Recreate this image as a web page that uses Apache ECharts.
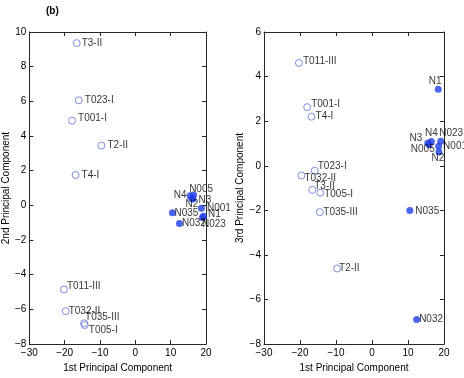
<!DOCTYPE html>
<html>
<head>
<meta charset="utf-8">
<script src="https://cdn.jsdelivr.net/npm/echarts@6/dist/echarts.min.js"></script>
<style>html,body{margin:0;padding:0;background:#fff;}#c{width:464px;height:378px;}</style>
</head>
<body>
<div id="c"></div>
<script>
// ---- Data ----
var xTicks = [-30, -20, -10, 0, 10, 20];
var leftYTicks = [-8, -6, -4, -2, 0, 2, 4, 6, 8, 10];
var rightYTicks = [-8, -6, -4, -2, 0, 2, 4, 6];

var leftTumorNames = ['T3-II','T023-I','T001-I','T2-II','T4-I','T011-III','T032-II','T035-III','T005-I'];
var leftTumorPC1   = [-16.6, -16.0, -17.9, -9.6, -16.9, -20.2, -19.7, -14.5, -14.3];
var leftTumorPC2   = [9.36, 6.06, 4.89, 3.45, 1.75, -4.85, -6.1, -6.8, -6.9];

var leftNormalNames = ['N005','N4','N3','N2','N001','N1','N023','N035','N032'];
var leftNormalPC1   = [16.5, 15.5, 16.3, 16.0, 18.7, 19.3, 19.0, 10.5, 12.5];
var leftNormalPC2   = [0.6, 0.56, 0.37, 0.4, -0.17, -0.62, -0.7, -0.43, -1.04];

var rightTumorNames = ['T011-III','T001-I','T4-I','T023-I','T032-II','T3-II','T005-I','T035-III','T2-II'];
var rightTumorPC1   = [-20.3, -18.0, -16.8, -15.9, -19.6, -16.6, -14.4, -14.5, -9.7];
var rightTumorPC3   = [4.61, 2.63, 2.2, -0.22, -0.44, -1.08, -1.21, -2.08, -4.61];

var rightNormalNames = ['N1','N3','N4','N005','N023','N001','N2','N035','N032'];
var rightNormalPC1   = [18.4, 15.5, 16.5, 15.9, 19.1, 18.5, 18.6, 10.5, 12.4];
var rightNormalPC3   = [3.43, 1.02, 1.09, 0.94, 1.1, 0.87, 0.62, -2.01, -6.9];

// ---- Label placement (style only) ----
var leftLabelPos = {
  'T3-II':['right',[-1,0]], 'T001-I':['right',[0,-2]], 'T011-III':['right',[-3,-3]],
  'T032-II':['right',[-3,0]], 'T035-III':['right',[-5,-6]], 'T005-I':['right',[-2,5]],
  'N005':['right',[-10,-6]], 'N4':['left',[2,0]], 'N3':['right',[0,1]], 'N2':['bottom',[0,-5]],
  'N001':['right',[0,0]], 'N1':['right',[-1,-2]], 'N023':['right',[-6,7]],
  'N035':['right',[-3.5,0]], 'N032':['right',[-3,0]]
};
var rightLabelPos = {
  'T011-III':['right',[-2,-2]], 'N1':['top',[-3,2]], 'T001-I':['right',[-2,-3]], 'T4-I':['right',[-2,0]],
  'N3':['left',[0,-5]], 'N4':['top',[0,2]], 'N005':['left',[11,4.5]], 'N023':['right',[-7,-8]],
  'N001':['right',[-1,0]], 'N2':['bottom',[-1,-4.5]], 'T023-I':['right',[-3,-4]],
  'T032-II':['right',[-3,3]], 'T3-II':['right',[-4,-4]], 'T005-I':['right',[-2,2]],
  'T035-III':['right',[-2.5,0]], 'N035':['right',[0,1]], 'T2-II':['right',[-4,0]], 'N032':['right',[-3,0]]
};

var FONT = '"Liberation Sans", Arial, sans-serif';
var AXC = '#262626';

function items(names, xs, ys, posMap) {
  return names.map(function (n, i) {
    var p = posMap[n] || ['right', [0, 0]];
    return {
      name: n, value: [xs[i], ys[i]],
      label: { position: p[0], offset: p[1] }
    };
  });
}

function minus(v) { return String(v).replace('-', '\u2212'); }

function axesFor(gi, yMin, yMax) {
  var common = {
    gridIndex: gi, type: 'value',
    axisLine: { show: true, onZero: false, lineStyle: { color: AXC, width: 1 } },
    axisTick: { show: true, inside: true, length: 4, lineStyle: { color: AXC } },
    splitLine: { show: false },
    nameTextStyle: { color: '#000', fontSize: 10, fontFamily: FONT }
  };
  var xb = Object.assign({}, common, {
    min: xTicks[0], max: xTicks[xTicks.length - 1], interval: 10, position: 'bottom',
    axisLabel: { color: '#000', fontSize: 10, fontFamily: FONT, margin: 4, formatter: minus },
    name: '1st Principal Component', nameLocation: 'middle', nameGap: 17
  });
  var xt = Object.assign({}, common, {
    min: xTicks[0], max: xTicks[xTicks.length - 1], interval: 10, position: 'top',
    axisLabel: { show: false }
  });
  var yl = Object.assign({}, common, {
    min: yMin, max: yMax, interval: 2, position: 'left',
    axisLabel: { color: '#000', fontSize: 10, fontFamily: FONT, margin: 3, formatter: minus },
    name: gi === 0 ? '2nd Principal Component' : '3rd Principal Component',
    nameLocation: 'middle', nameGap: 14
  });
  var yr = Object.assign({}, common, {
    min: yMin, max: yMax, interval: 2, position: 'right',
    axisLabel: { show: false }
  });
  return { x: [xb, xt], y: [yl, yr] };
}

var a0 = axesFor(0, leftYTicks[0], leftYTicks[leftYTicks.length - 1]);
var a1 = axesFor(1, rightYTicks[0], rightYTicks[rightYTicks.length - 1]);

var labelStyle = { show: true, formatter: '{b}', color: '#000', fontSize: 10, fontFamily: FONT, distance: 2 };
var hollow = { color: 'rgba(0,0,0,0)', borderColor: '#5f6fd8', borderWidth: 1 };
var filled = { color: '#1f3fe8', borderWidth: 0 };

function ser(xi, yi, data, style, size) {
  return {
    type: 'scatter', xAxisIndex: xi, yAxisIndex: yi, data: data,
    symbol: 'circle', symbolSize: size, itemStyle: style, label: labelStyle,
    clip: false, silent: true, animation: false,
    emphasis: { disabled: true }
  };
}

var option = {
  backgroundColor: '#fff',
  animation: false,
  title: {
    text: '(b)', left: 41, top: 1,
    textStyle: { fontSize: 10, fontWeight: 'bold', fontFamily: FONT, color: '#000' }
  },
  grid: [
    { left: 27, top: 32, width: 179, height: 318 },
    { left: 264, top: 32, width: 180, height: 317 }
  ],
  xAxis: [a0.x[0], a0.x[1], a1.x[0], a1.x[1]],
  yAxis: [a0.y[0], a0.y[1], a1.y[0], a1.y[1]],
  series: [
    ser(0, 0, items(leftTumorNames, leftTumorPC1, leftTumorPC2, leftLabelPos), hollow, 7),
    ser(0, 0, items(leftNormalNames, leftNormalPC1, leftNormalPC2, leftLabelPos), filled, 7),
    ser(2, 2, items(rightTumorNames, rightTumorPC1, rightTumorPC3, rightLabelPos), hollow, 7),
    ser(2, 2, items(rightNormalNames, rightNormalPC1, rightNormalPC3, rightLabelPos), filled, 7)
  ]
};

var chart = echarts.init(document.getElementById('c'), null, { renderer: 'canvas' });
chart.setOption(option);
</script>
</body>
</html>
